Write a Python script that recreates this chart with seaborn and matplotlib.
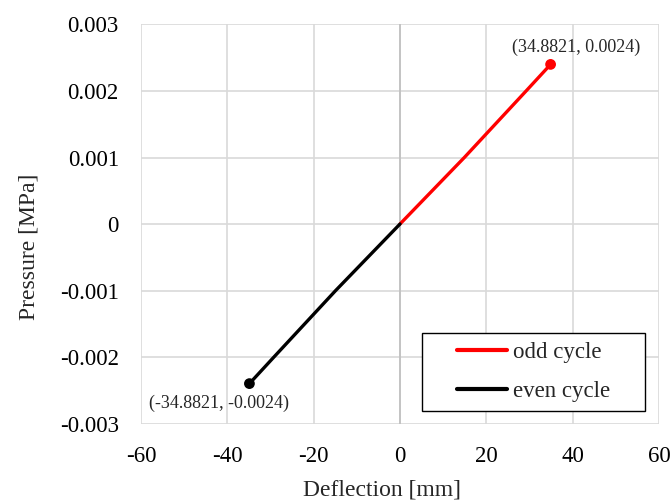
import numpy as np
import pandas as pd
import matplotlib
matplotlib.use("Agg")
import matplotlib.pyplot as plt
import seaborn as sns

# data
odd_x = [0, 14.9, 29.2, 34.8821]
odd_y = [0, 0.001, 0.002, 0.0024]
even_x = [0, -14.9, -29.2, -34.8821]
even_y = [0, -0.001, -0.002, -0.0024]
x_ticks = [-60, -40, -20, 0, 20, 40, 60]
y_ticks = [-0.003, -0.002, -0.001, 0, 0.001, 0.002, 0.003]

df = pd.concat([
    pd.DataFrame({'x': odd_x, 'y': odd_y, 'cycle': 'odd cycle'}),
    pd.DataFrame({'x': even_x, 'y': even_y, 'cycle': 'even cycle'}),
], ignore_index=True)
ends = df.groupby('cycle', sort=False).tail(1)

sns.set_style("white")
plt.rcParams['font.family'] = ['Liberation Serif', 'DejaVu Serif']
plt.rcParams['axes.unicode_minus'] = False

fig = plt.figure(figsize=(6.72, 5.04), dpi=100)
ax = fig.add_axes([0.2098, 0.1597, 0.7709, 0.7917])

palette = {'odd cycle': '#ff0000', 'even cycle': '#000000'}
sns.lineplot(data=df, x='x', y='y', hue='cycle', palette=palette, sort=False,
             linewidth=2.4, ax=ax, estimator=None)
sns.scatterplot(data=ends, x='x', y='y', hue='cycle', palette=palette, s=60,
                edgecolor='none', legend=False, ax=ax, zorder=4)

ax.set_xlim(-60, 60)
ax.set_ylim(-0.003, 0.003)
ax.set_xticks(x_ticks)
ax.set_yticks(y_ticks)
ax.set_xticklabels([str(v) for v in x_ticks])
ax.set_yticklabels(['0' if v == 0 else f'{v:.3f}' for v in y_ticks])
ax.tick_params(axis='both', length=0, labelsize=16.5, pad=16, colors='#000000')
ax.grid(True, color='#d9d9d9', linewidth=1.2)
ax.set_axisbelow(True)
for s in ax.spines.values():
    s.set_visible(False)
ax.axvline(0, color='#bfbfbf', linewidth=1.2, zorder=1)

ax.set_xlabel('Deflection [mm]', fontsize=17)
ax.set_ylabel('Pressure [MPa]', fontsize=17)
ax.xaxis.set_label_coords(0.465, -0.14)
ax.yaxis.set_label_coords(-0.195, 0.442)

for _, r in ends.iterrows():
    if r['x'] > 0:
        off = (18.5, 12.5)
    else:
        off = (-22, -14.4)
    ax.annotate(f"({r['x']:.4f}, {r['y']:.4f})", (r['x'], r['y']), xytext=off,
                textcoords='offset points', ha='center', va='center', fontsize=13)

leg = ax.legend(loc='lower left', bbox_to_anchor=(0.542, 0.031, 0.431, 0.196),
                mode='expand', fontsize=16.5, frameon=True, fancybox=False,
                edgecolor='black', framealpha=1, borderpad=0.4, labelspacing=0.77,
                handlelength=2.2, handletextpad=0.25, borderaxespad=0)
leg.get_frame().set_linewidth(1.0)
leg._legend_handle_box.mode = 'fixed'
for line in leg.get_lines():
    line.set_linewidth(3)

fig.savefig('out.png', dpi=100)
